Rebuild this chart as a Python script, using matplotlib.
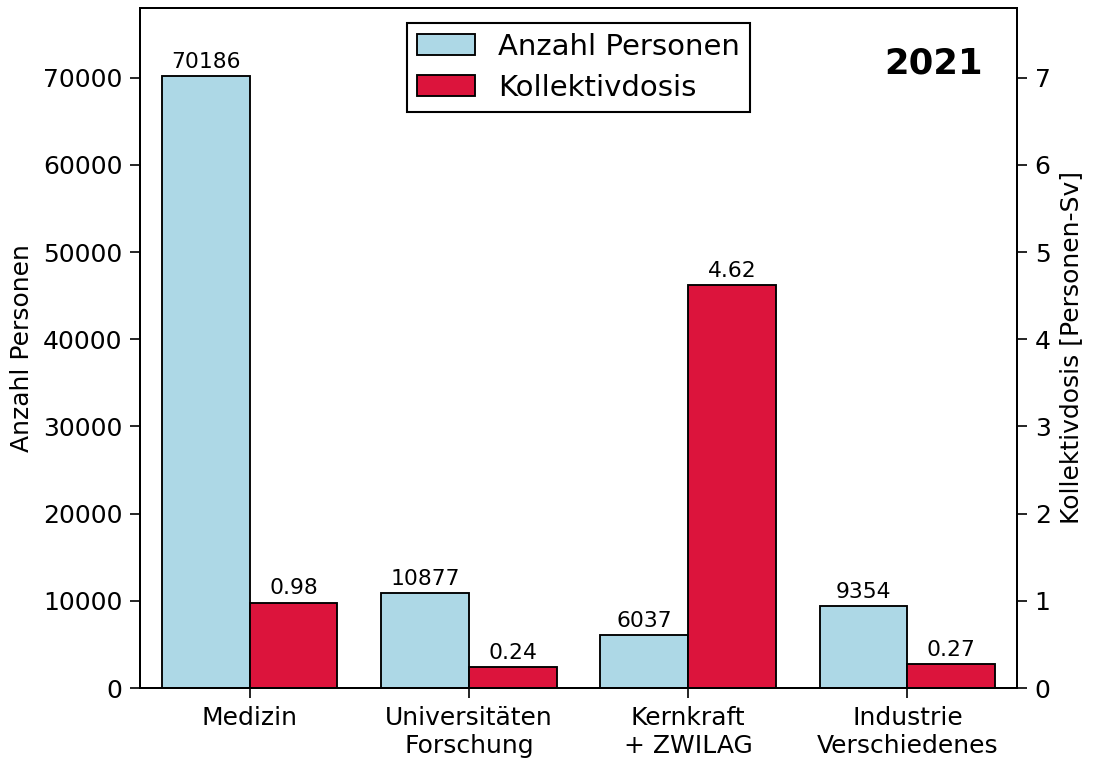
import numpy as np
import matplotlib.pyplot as plt

categories = ["Medizin", "Universitäten\nForschung", "Kernkraft\n+ ZWILAG", "Industrie\nVerschiedenes"]
personen = [70186, 10877, 6037, 9354]
dosis = [0.98, 0.24, 4.62, 0.27]
year = "2021"

plt.rcParams["font.family"] = "DejaVu Sans"

fig = plt.figure(figsize=(1094 / 150, 760 / 150), dpi=150)
ax = fig.add_axes([140 / 1094, 72 / 760, 877 / 1094, 680 / 760])
ax2 = ax.twinx()

x = np.arange(len(categories))
w = 0.4

b1 = ax.bar(x - w / 2, personen, w, color="lightblue", edgecolor="black",
            linewidth=0.9, label="Anzahl Personen")
b2 = ax2.bar(x + w / 2, dosis, w, color="crimson", edgecolor="black",
             linewidth=0.9, label="Kollektivdosis")

ax.bar_label(b1, labels=[str(v) for v in personen], padding=2, fontsize=10.5)
ax2.bar_label(b2, labels=[f"{v:.2f}" for v in dosis], padding=2, fontsize=10.5)

ax.set_xlim(-0.5, 3.5)
ax.set_ylim(0, 78000)
ax2.set_ylim(0, 7.8)
ax.set_xticks(x)
ax.set_xticklabels(categories, fontsize=12)
ax.set_yticks(np.arange(0, 70001, 10000))
ax2.set_yticks(np.arange(0, 8))
ax.tick_params(labelsize=12, length=5, width=0.8)
ax2.tick_params(labelsize=12, length=5, width=0.8)
for a in (ax, ax2):
    for s in a.spines.values():
        s.set_linewidth(0.9)
ax.set_ylabel("Anzahl Personen", fontsize=12)
ax2.set_ylabel("Kollektivdosis [Personen-Sv]", fontsize=12)

ax.text(0.961, 0.918, year, transform=ax.transAxes, ha="right", va="center",
        fontsize=17, fontweight="bold")

ax2.legend([b1, b2], ["Anzahl Personen", "Kollektivdosis"], loc="upper center",
           fontsize=14, fancybox=False, framealpha=1, edgecolor="black",
           borderpad=0.35, handlelength=2.0, labelspacing=0.45)

fig.savefig("out.png", dpi=150)
